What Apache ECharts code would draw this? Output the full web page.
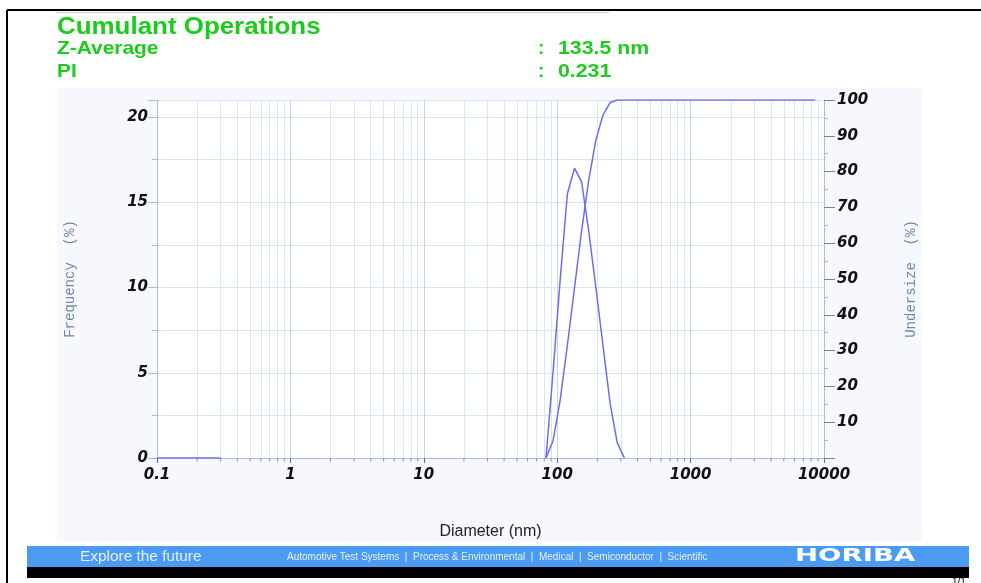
<!DOCTYPE html>
<html>
<head>
<meta charset="utf-8">
<script src="https://cdn.jsdelivr.net/npm/echarts@6/dist/echarts.min.js"></script>
<style>
  html, body { margin: 0; padding: 0; background: #ffffff; }
  #chart { width: 981px; height: 583px; }
</style>
</head>
<body>
<div id="chart"></div>
<script>
// Particle size distribution (DLS, cumulant analysis)
const diameters   = [82.4, 93.2, 105.4, 119.2, 134.8, 152.4, 172.4, 194.9, 220.4, 249.3, 281.8, 318.7];
const frequency   = [0, 5.1, 10.5, 15.5, 17.0, 16.2, 13.3, 10.0, 6.6, 3.2, 0.9, 0];
const undersize   = [0, 4.9, 16.3, 31.5, 47.5, 63.5, 77.6, 88.8, 95.8, 99.3, 100, 100];
const undersizeTailDiameter = 8600;   // last size bin of the cumulative curve
const baselineDiameters = [0.1, 0.3];  // zero frequency below the detection range
const baselineValues    = [0, 0];

// Log-axis minor grid positions (2..9 in each decade)
const minorGrid = [0.2,0.3,0.4,0.5,0.6,0.7,0.8,0.9, 2,3,4,5,6,7,8,9, 20,30,40,50,60,70,80,90,
                   200,300,400,500,600,700,800,900, 2000,3000,4000,5000,6000,7000,8000,9000];
const xTicks = [0.1, 1, 10, 100, 1000, 10000];
const leftTicks  = [0, 5, 10, 15, 20];
const rightTicks = [10, 20, 30, 40, 50, 60, 70, 80, 90, 100];

const summaryTitle = 'Cumulant Operations';
const summaryRows = [['Z-Average', '133.5 nm'], ['PI', '0.231']];

const lineColor = '#6c6cf0';
const axisColor = '#a8bce0';
const gridMinor = '#dae4f8';
const gridMajor = '#c4d2f0';
const green = '#1ccc1c';
const tickFont = { fontFamily: 'DejaVu Sans', fontWeight: 'bold', fontStyle: 'italic', fontSize: 15, color: '#111' };

const freqData = baselineDiameters.map((d, i) => [d, baselineValues[i]]);
freqData.push([0.5, null]);
diameters.forEach((d, i) => freqData.push([d, frequency[i]]));

const underData = diameters.map((d, i) => [d, undersize[i]]);
underData.push([undersizeTailDiameter, undersize[undersize.length - 1]]);

const chart = echarts.init(document.getElementById('chart'), null, { renderer: 'canvas' });

const graphics = [
  // page panel
  { type: 'rect', shape: { x: 57, y: 88, width: 865, height: 453 }, style: { fill: '#f6f8fd' }, z: -10 },
  // frame lines
  { type: 'line', shape: { x1: 7, y1: 10, x2: 981, y2: 10 }, style: { stroke: '#000', lineWidth: 2 } },
  { type: 'line', shape: { x1: 7, y1: 10, x2: 7, y2: 583 }, style: { stroke: '#000', lineWidth: 2 } },
  { type: 'line', shape: { x1: 56, y1: 12.5, x2: 609, y2: 12.5 }, style: { stroke: '#c8d0dc', lineWidth: 1 } },
  // footer bar
  { type: 'rect', shape: { x: 27, y: 546, width: 942, height: 21 }, style: { fill: '#4b9bf5' } },
  { type: 'rect', shape: { x: 27, y: 567, width: 942, height: 11 }, style: { fill: '#000' } },
  { type: 'text', x: 80, y: 557, scaleX: 1.1, style: { text: 'Explore the future', font: '14px "Liberation Sans"', fill: '#e6f0ff', textVerticalAlign: 'middle' } },
  { type: 'text', x: 287, y: 557, style: { text: 'Automotive Test Systems  |  Process & Environmental  |  Medical  |  Semiconductor  |  Scientific', font: '10px "Liberation Sans"', fill: '#e6f0ff', textVerticalAlign: 'middle' } },
  { type: 'text', x: 795, y: 557, scaleX: 1.62, style: { text: 'HORIBA', font: 'bold 17px "DejaVu Sans"', fill: '#ffffff', textVerticalAlign: 'middle' } },
  { type: 'text', x: 952, y: 577, style: { text: '1/1', font: '10px "Liberation Sans"', fill: '#000' } },
  // summary header
  { type: 'text', x: 57, y: 27, scaleX: 1.08, style: { text: summaryTitle, font: 'bold 24px "Liberation Sans"', fill: green, textVerticalAlign: 'middle' } }
];
summaryRows.forEach((row, i) => {
  const y = 49 + i * 23;
  graphics.push({ type: 'text', x: 57, y: y, scaleX: 1.1, style: { text: row[0], font: 'bold 19px "Liberation Sans"', fill: green, textVerticalAlign: 'middle' } });
  graphics.push({ type: 'text', x: 538, y: y, style: { text: ':', font: 'bold 19px "Liberation Sans"', fill: green, textVerticalAlign: 'middle' } });
  graphics.push({ type: 'text', x: 558, y: y, scaleX: 1.12, style: { text: row[1], font: 'bold 19px "Liberation Sans"', fill: green, textVerticalAlign: 'middle' } });
});

const option = {
  backgroundColor: '#ffffff',
  animation: false,
  graphic: graphics,
  grid: { left: 157, right: 157, top: 100, bottom: 125, show: true, backgroundColor: '#ffffff', borderWidth: 0 },
  xAxis: {
    type: 'log', logBase: 10, min: 0.1, max: 10000,
    name: 'Diameter (nm)', nameLocation: 'middle', nameGap: 66,
    nameTextStyle: { fontFamily: 'Liberation Sans', fontSize: 16, color: '#222' },
    axisLine: { show: true, lineStyle: { color: axisColor } },
    axisTick: { show: true, length: 5, lineStyle: { color: '#5a7090' } },
    axisLabel: { ...tickFont, margin: 10, formatter: v => String(v) },
    splitLine: { show: true, lineStyle: { color: gridMajor } },
    minorTick: { show: false }, minorSplitLine: { show: false }
  },
  yAxis: [
    {
      type: 'value', position: 'left', min: 0, max: 21, interval: 5,
      name: 'Frequency  (%)', nameLocation: 'middle', nameRotate: 90, nameGap: 80,
      nameTextStyle: { fontFamily: 'Liberation Mono', fontSize: 14, color: '#6f86a8' },
      axisLine: { show: true, lineStyle: { color: axisColor } },
      axisTick: { show: true, length: 9, lineStyle: { color: axisColor } },
      minorTick: { show: true, splitNumber: 2, length: 5, lineStyle: { color: axisColor } },
      axisLabel: { ...tickFont, margin: 9, showMaxLabel: false, formatter: v => leftTicks.includes(v) ? String(v) : '' },
      splitLine: { show: true, lineStyle: { color: gridMinor } },
      minorSplitLine: { show: true, lineStyle: { color: gridMinor } }
    },
    {
      type: 'value', position: 'right', min: 0, max: 100, interval: 10,
      name: 'Undersize  (%)', nameLocation: 'middle', nameRotate: 90, nameGap: 80,
      nameTextStyle: { fontFamily: 'Liberation Mono', fontSize: 14, color: '#6f86a8' },
      axisLine: { show: true, lineStyle: { color: axisColor } },
      axisTick: { show: true, length: 11, lineStyle: { color: '#6f86a8' } },
      minorTick: { show: true, splitNumber: 2, length: 4, lineStyle: { color: axisColor } },
      axisLabel: { ...tickFont, margin: 13, formatter: v => rightTicks.includes(v) ? String(v) : '' },
      splitLine: { show: false }
    }
  ],
  series: [
    {
      name: 'grid', type: 'scatter', xAxisIndex: 0, yAxisIndex: 0, z: 1, silent: true,
      data: minorGrid.map(d => [d, 0]),
      symbol: 'rect', symbolSize: [1, 3], symbolOffset: [0, 2],
      itemStyle: { color: '#5a8090' },
      markLine: {
        silent: true, symbol: 'none', label: { show: false },
        lineStyle: { color: gridMinor, type: 'solid', width: 1 },
        data: minorGrid.map(d => ({ xAxis: d }))
      }
    },
    {
      name: 'Frequency', type: 'line', xAxisIndex: 0, yAxisIndex: 0, z: 5,
      data: freqData, showSymbol: false, connectNulls: false,
      lineStyle: { color: lineColor, width: 1.5 }
    },
    {
      name: 'Undersize', type: 'line', xAxisIndex: 0, yAxisIndex: 1, z: 5,
      data: underData, showSymbol: false,
      lineStyle: { color: lineColor, width: 1.5 }
    }
  ]
};

chart.setOption(option);
</script>
</body>
</html>
